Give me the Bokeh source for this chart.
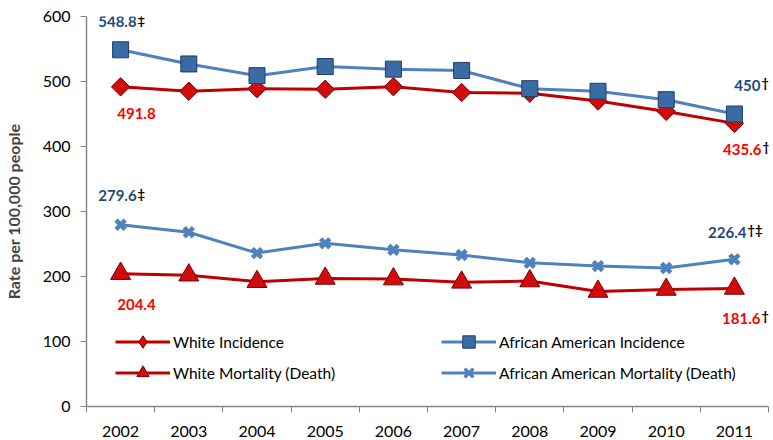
import numpy as np
from bokeh.plotting import figure
from bokeh.models import Range1d, FixedTicker, Legend, LegendItem, Label
from bokeh.embed import file_html
from bokeh.resources import INLINE

years = ["2002", "2003", "2004", "2005", "2006", "2007", "2008", "2009", "2010", "2011"]
white_incidence = [491.8, 485, 489, 488, 492, 483, 482, 470, 454, 435.6]
aa_incidence = [548.8, 527, 509, 523, 519, 517, 489, 485, 472, 450]
white_mortality = [204.4, 202, 192, 197, 196, 191, 193, 177, 180, 181.6]
aa_mortality = [279.6, 268, 236, 251, 241, 233, 221, 216, 213, 226.4]
y_ticks = [0, 100, 200, 300, 400, 500, 600]

# annotation labels: (series, year index, number text, footnote mark)
label_series = ["aa_inc", "w_inc", "aa_inc", "w_inc", "aa_mort", "w_mort", "aa_mort", "w_mort"]
label_index = [0, 0, 9, 9, 0, 0, 9, 9]
label_text = ["548.8", "491.8", "450", "435.6", "279.6", "204.4", "226.4", "181.6"]
label_mark = ["‡", "", "†", "†", "‡", "", "†‡", "†"]

FONT = "Lato"
RED = "#c00000"
BLUE = "#4f81bd"
AXIS = "#868686"

x = np.arange(len(years)) + 0.5

p = figure(width=773, height=440, output_backend="svg", toolbar_location=None,
           x_range=Range1d(0, len(years)), y_range=Range1d(0, 600),
           min_border_left=83, min_border_right=5, min_border_top=16, min_border_bottom=34)
p.outline_line_color = None
p.xgrid.visible = False
p.ygrid.visible = False

# axes
p.xaxis.ticker = FixedTicker(ticks=list(x), minor_ticks=list(range(len(years) + 1)))
p.xaxis.major_label_overrides = {float(xx): yy for xx, yy in zip(x, years)}
p.xaxis.major_tick_out = 0
p.xaxis.major_tick_in = 0
p.xaxis.minor_tick_out = 6
p.xaxis.minor_tick_in = 0
p.xaxis.minor_tick_line_color = AXIS
p.xaxis.axis_line_color = AXIS
p.xaxis.axis_line_width = 1.5
p.xaxis.major_label_standoff = 13
p.xaxis.major_label_text_font = FONT
p.xaxis.major_label_text_font_size = "16px"
p.xaxis.major_label_text_color = "#000000"

p.yaxis.ticker = FixedTicker(ticks=y_ticks)
p.yaxis.major_tick_out = 6
p.yaxis.major_tick_in = 0
p.yaxis.minor_tick_out = 0
p.yaxis.minor_tick_in = 0
p.yaxis.major_tick_line_color = AXIS
p.yaxis.axis_line_color = AXIS
p.yaxis.axis_line_width = 1.5
p.yaxis.major_label_standoff = 10
p.yaxis.major_label_text_font = FONT
p.yaxis.major_label_text_font_size = "16px"
p.yaxis.major_label_text_color = "#000000"
p.yaxis.axis_label = "Rate per 100,000 people"
p.yaxis.axis_label_text_font = FONT
p.yaxis.axis_label_text_font_style = "bold"
p.yaxis.axis_label_text_font_size = "16px"
p.yaxis.axis_label_standoff = 17

# series
l_wi = p.line(x, white_incidence, line_color=RED, line_width=3)
m_wi = p.scatter(x, white_incidence, marker="square", angle=np.pi / 4, size=13,
                 fill_color="#d00c0c", line_color="#7a0000", line_width=1)
l_ai = p.line(x, aa_incidence, line_color=BLUE, line_width=3)
m_ai = p.scatter(x, aa_incidence, marker="square", size=16,
                 fill_color="#3b6ba5", line_color="#1f3d66", line_width=1)
l_wm = p.line(x, white_mortality, line_color=RED, line_width=3)
m_wm = p.scatter(x, white_mortality, marker="triangle", size=20,
                 fill_color="#d00c0c", line_color="#7a0000", line_width=1)
l_am = p.line(x, aa_mortality, line_color=BLUE, line_width=3)
m_am = p.scatter(x, aa_mortality, marker="x", size=13,
                 line_color=BLUE, line_width=4.5)

# marker glyphs used only for the legend samples (their one point lies outside the frame)
off = [-100]
g_wi = p.scatter(off, off, marker="diamond", size=14, fill_color="#d00c0c", line_color="#7a0000")
g_ai = p.scatter(off, off, marker="square", size=12, fill_color="#3b6ba5", line_color="#1f3d66")
g_wm = p.scatter(off, off, marker="triangle", size=14, fill_color="#d00c0c", line_color="#7a0000")
g_am = p.scatter(off, off, marker="x", size=8, line_color=BLUE, line_width=3.5)

# annotations
series_map = {"w_inc": white_incidence, "aa_inc": aa_incidence,
              "w_mort": white_mortality, "aa_mort": aa_mortality}
offsets = {  # (dx, dy) screen px (dy positive = down), anchor = right edge of the number
    ("aa_inc", 0): (16, -28), ("w_inc", 0): (35, 27),
    ("aa_inc", 9): (26, -29), ("w_inc", 9): (27, 26),
    ("aa_mort", 0): (16, -29), ("w_mort", 0): (35, 31),
    ("aa_mort", 9): (12, -27), ("w_mort", 9): (26, 30),
}
for s, i, t, mk in zip(label_series, label_index, label_text, label_mark):
    dx, dy = offsets[(s, i)]
    col = "#1f497d" if s.startswith("aa") else "#ff0000"
    yv = series_map[s][i]
    p.add_layout(Label(x=x[i], y=yv, text=t, x_offset=dx, y_offset=-dy,
                       text_align="right", text_baseline="middle", text_color=col,
                       text_font=FONT, text_font_style="bold", text_font_size="15px"))
    if mk:
        p.add_layout(Label(x=x[i], y=yv, text=mk, x_offset=dx + 1, y_offset=-dy + 2,
                           text_align="left", text_baseline="middle", text_color="#000000",
                           text_font=FONT, text_font_style="bold", text_font_size="13px"))

def make_legend(items, loc):
    return Legend(items=items, location=loc, orientation="vertical",
                  glyph_width=55, glyph_height=31, spacing=0, padding=0, margin=0,
                  label_standoff=3, label_text_font=FONT, label_text_font_size="15.5px",
                  label_text_color="#000000", background_fill_alpha=0,
                  border_line_color=None)

leg1 = make_legend([LegendItem(label="White Incidence", renderers=[l_wi, g_wi]),
                    LegendItem(label="White Mortality (Death)", renderers=[l_wm, g_wm])],
                   (29, 18))
leg2 = make_legend([LegendItem(label="African American Incidence", renderers=[l_ai, g_ai]),
                    LegendItem(label="African American Mortality (Death)", renderers=[l_am, g_am])],
                   (355, 18))
p.add_layout(leg1, "center")
p.add_layout(leg2, "center")

open("out.html", "w").write(file_html(p, INLINE))
